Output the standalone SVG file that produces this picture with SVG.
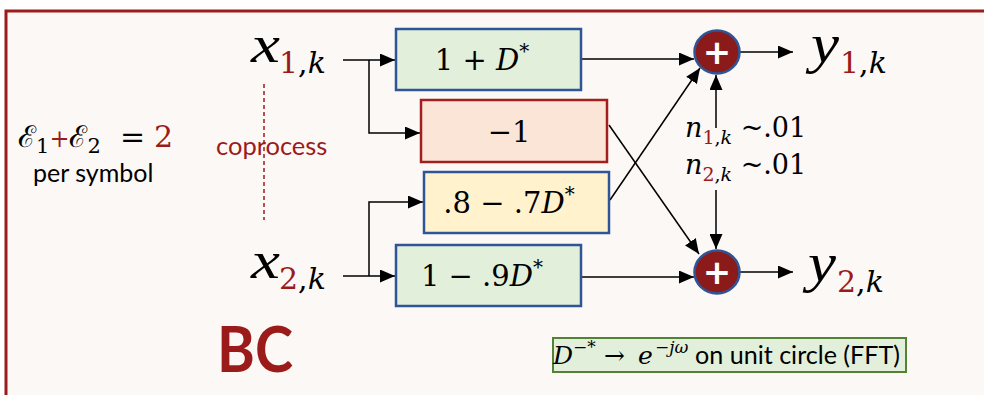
<svg xmlns="http://www.w3.org/2000/svg" width="984" height="395" viewBox="0 0 984 395">
<defs>
<marker id="ah" markerUnits="userSpaceOnUse" markerWidth="15" markerHeight="13" viewBox="0 0 15 13" refX="15" refY="6.5" orient="auto">
<path d="M0,0 L15,6.5 L0,13 z" fill="#000"/>
</marker>
<style>
.m{font-family:"DejaVu Serif","Liberation Serif",serif;fill:#000}
.v{font-family:"Liberation Serif","DejaVu Serif",serif;font-style:italic}
.i{font-style:italic}
.r{fill:#9B1B1B}
.s{font-family:Lato,"Liberation Sans",sans-serif}
.box{stroke-width:2.5}
.g{fill:#E2EFDA;stroke:#2F5597}
.o{fill:#FBE5D6;stroke:#A31F1F}
.y{fill:#FFF2CC;stroke:#2F5597}
.sum{fill:#8B1A1A;stroke:#2F5597;stroke-width:2.5}
.plus{font-family:"DejaVu Sans",sans-serif;font-weight:bold;fill:#fff;font-size:34px}
.c{fill:none;stroke:#000;stroke-width:1.5;marker-end:url(#ah)}
</style>
</defs>
<rect x="6" y="11" width="990" height="390" fill="#FCF8F6" stroke="#9B1C1C" stroke-width="3"/>

<g id="connectors">
<path class="c" d="M343,60 H395"/>
<path class="c" d="M369,60 V133 H420"/>
<path class="c" d="M343,276 H395"/>
<path class="c" d="M369,276 V202 H423"/>
<path class="c" d="M581,59 H694"/>
<path class="c" d="M610,200 L700,68"/>
<path class="c" d="M609,125 L699,254"/>
<path class="c" d="M581,277 H694"/>
<path class="c" d="M740,52 H793"/>
<path class="c" d="M740,272 H793"/>
<path class="c" d="M716,128 V75"/>
<path class="c" d="M716,190 V249"/>
<path d="M264,84 V220" stroke="#9B1B1B" stroke-width="1.5" stroke-dasharray="4,3" fill="none"/>
</g>

<g id="x1">
<text class="v" x="251" y="62" font-size="52" textLength="29" lengthAdjust="spacingAndGlyphs">x</text>
<text class="m" x="279" y="73" font-size="30"><tspan class="r">1</tspan>,<tspan class="i">k</tspan></text>
</g>
<g id="x2">
<text class="v" x="251" y="278" font-size="52" textLength="29" lengthAdjust="spacingAndGlyphs">x</text>
<text class="m" x="279" y="289" font-size="30"><tspan class="r">2</tspan>,<tspan class="i">k</tspan></text>
</g>
<g id="y1">
<text class="v" x="811" y="62" font-size="54" textLength="28" lengthAdjust="spacingAndGlyphs">y</text>
<text class="m" x="840" y="73" font-size="30"><tspan class="r">1</tspan>,<tspan class="i">k</tspan></text>
</g>
<g id="y2">
<text class="v" x="808" y="281" font-size="54" textLength="28" lengthAdjust="spacingAndGlyphs">y</text>
<text class="m" x="837" y="292" font-size="30"><tspan class="r">2</tspan>,<tspan class="i">k</tspan></text>
</g>

<g id="box1">
<rect class="box g" x="396" y="29" width="185" height="61"/>
<text class="m" x="482" y="70" font-size="29" text-anchor="middle">1 + <tspan class="i">D</tspan><tspan font-size="20" dy="-12">*</tspan></text>
</g>
<g id="box2">
<rect class="box o" x="421" y="100" width="186" height="62"/>
<text class="m" x="509" y="142" font-size="29" text-anchor="middle">−1</text>
</g>
<g id="box3">
<rect class="box y" x="424" y="172" width="185" height="61"/>
<text class="m" x="509" y="213" font-size="29" text-anchor="middle">.8 − .7<tspan class="i">D</tspan><tspan font-size="20" dy="-12">*</tspan></text>
</g>
<g id="box4">
<rect class="box g" x="396" y="245" width="185" height="61"/>
<text class="m" x="482" y="286" font-size="29" text-anchor="middle">1 − .9<tspan class="i">D</tspan><tspan font-size="20" dy="-12">*</tspan></text>
</g>

<g id="sum1">
<ellipse class="sum" cx="717" cy="52" rx="22.5" ry="21.5"/>
<text class="plus" x="717" y="64" text-anchor="middle">+</text>
</g>
<g id="sum2">
<ellipse class="sum" cx="717" cy="272" rx="22.5" ry="21.5"/>
<text class="plus" x="717" y="284" text-anchor="middle">+</text>
</g>

<g id="noise">
<text class="m" x="685" y="137" font-size="27"><tspan class="i">n</tspan><tspan class="r" font-size="19" dy="7">1</tspan><tspan font-size="19">,</tspan><tspan class="i" font-size="19">k</tspan><tspan dy="-7"> ~.01</tspan></text>
<text class="m" x="685" y="174" font-size="27"><tspan class="i">n</tspan><tspan class="r" font-size="19" dy="7">2</tspan><tspan font-size="19">,</tspan><tspan class="i" font-size="19">k</tspan><tspan dy="-7"> ~.01</tspan></text>
</g>

<g id="energy">
<text class="m" x="18" y="147" font-size="30">ℰ<tspan font-size="21" dy="6">1</tspan><tspan class="r" dy="-6" font-size="24">+</tspan>ℰ<tspan font-size="21" dy="6">2</tspan><tspan dy="-6" x="120">=</tspan><tspan class="r" x="154">2</tspan></text>
<text class="s" x="33" y="182" font-size="25">per symbol</text>
</g>

<g id="coprocess">
<text class="s r" x="216" y="155" font-size="25.5">coprocess</text>
</g>

<g id="bc">
<text class="s r" x="217" y="372" font-size="64" font-weight="bold" textLength="76" lengthAdjust="spacingAndGlyphs">BC</text>
</g>

<g id="note">
<rect x="553" y="338" width="353" height="34" fill="#E2EFDA" stroke="#548235" stroke-width="2"/>
<text class="m" font-size="25"><tspan class="i" x="553" y="364">D</tspan><tspan font-size="17" x="573" y="353">−*</tspan><tspan x="604" y="364">→</tspan><tspan class="i" x="638" y="364">e</tspan><tspan class="i" font-size="17" x="655" y="353">−jω</tspan></text>
<text class="s" x="695" y="364" font-size="25.5" textLength="205" lengthAdjust="spacingAndGlyphs">on unit circle (FFT)</text>
</g>
</svg>
